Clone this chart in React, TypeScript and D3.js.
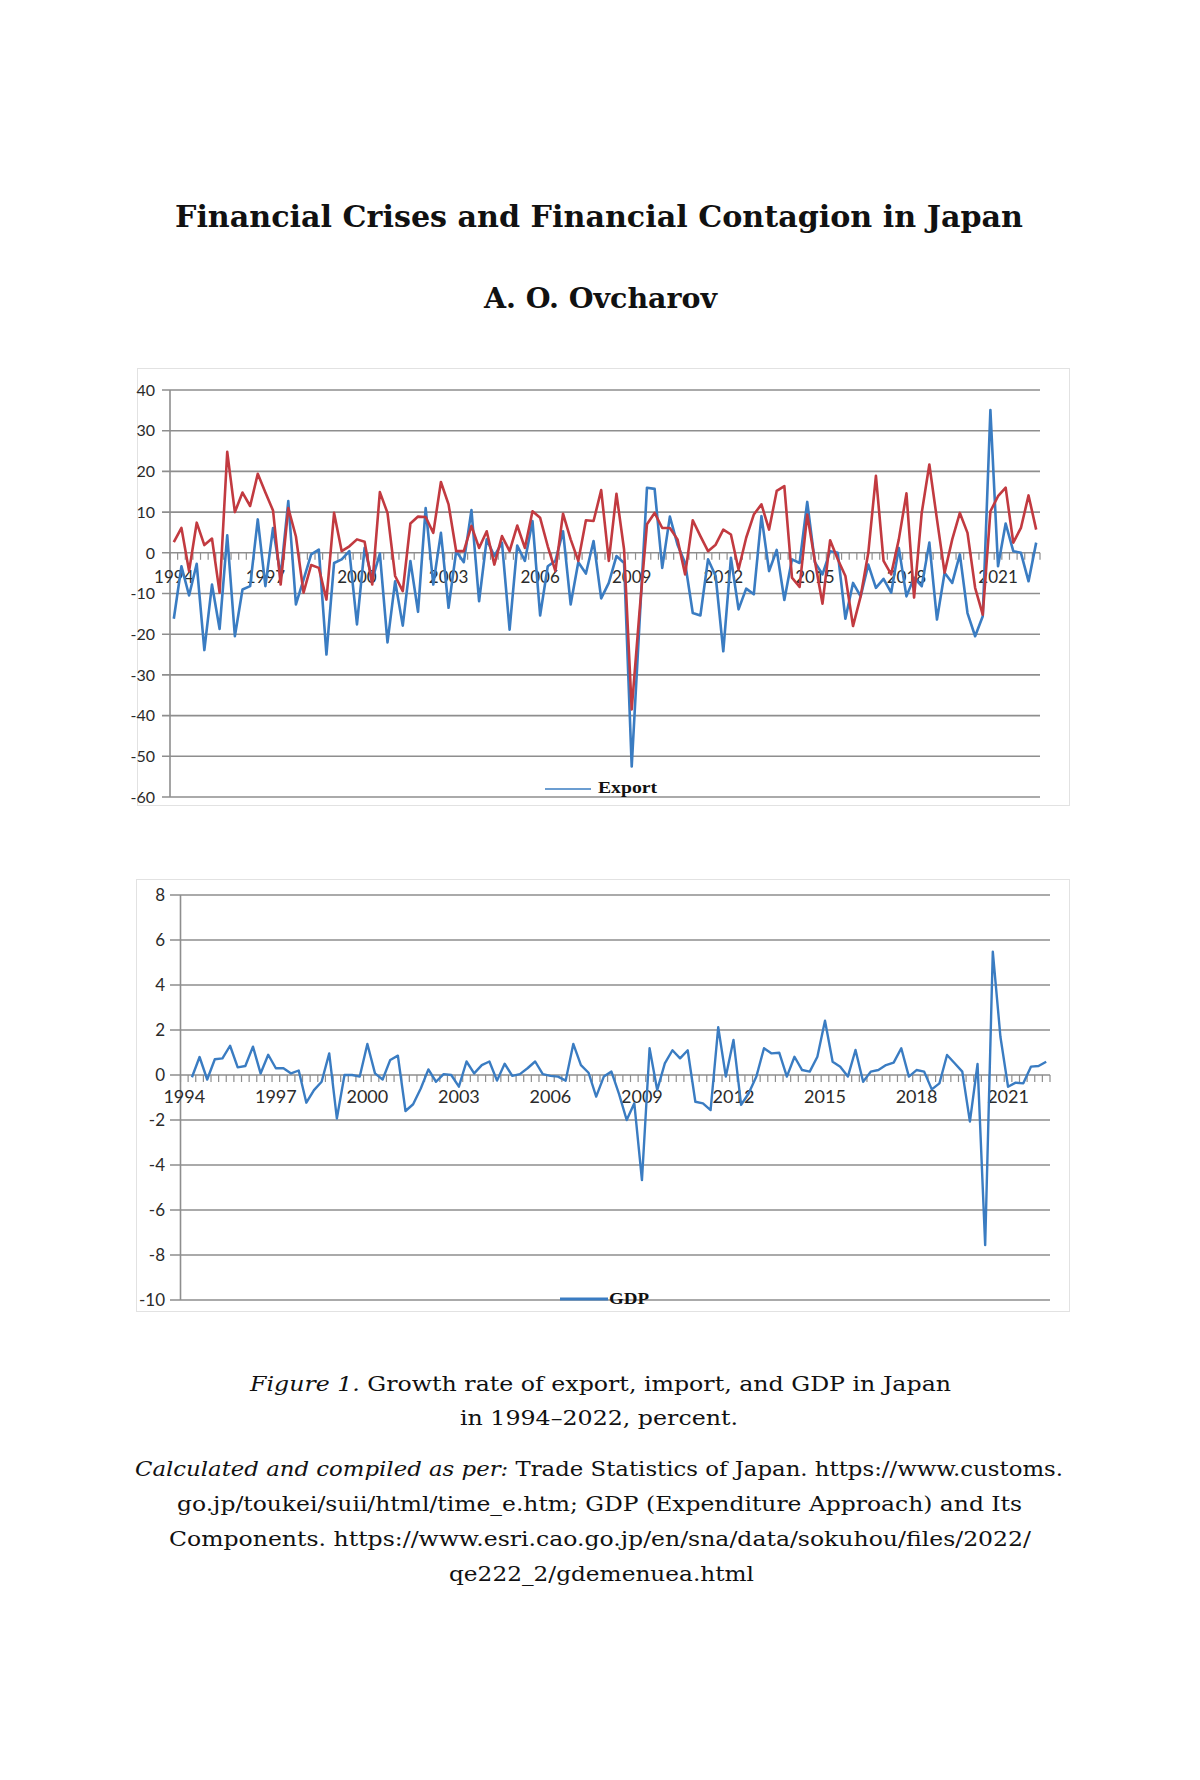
import React from 'react';
import * as d3 from 'd3';

// ---------- DATA ----------
const years = d3.range(1994, 2023);
const categories: string[] = [];
years.forEach((y) => {
  ['Q1', 'Q2', 'Q3', 'Q4'].forEach((q) => {
    if (categories.length < 114) categories.push(`${y}${q}`);
  });
});

const yearLabels = ['1994', '1997', '2000', '2003', '2006', '2009', '2012', '2015', '2018', '2021'];

const exportGrowth = [
  -16.2, -3.3, -10.5, -2.7, -23.9, -7.8, -18.7, 4.3, -20.5, -9,
  -8.2, 8.2, -8.2, 6.1, -5.7, 12.7, -12.7, -6.6, -0.4, 0.8,
  -25, -2.5, -1.6, 0.4, -17.6, 1.2, -6.6, -0.2, -22, -7,
  -17.9, -2, -14.5, 11, -7.8, 4.9, -13.5, 0.4, -2.3, 10.5,
  -11.9, 3.3, -0.8, 2.5, -18.9, 1.8, -2, 7.8, -15.4, -3.3,
  -2, 5.3, -12.7, -2.3, -5.1, 2.9, -11.2, -7.4, -0.8, -2.5,
  -52.5, -18, 16, 15.7, -3.7, 8.9, 2, -2.5, -14.8, -15.4,
  -1.6, -5.7, -24.2, -1.2, -13.9, -8.8, -10.2, 9, -4.5, 0.7,
  -11.6, -1.6, -2.5, 12.5, -2.3, -5.3, 0.4, 0, -16.2, -7.4,
  -10.7, -2.9, -8.6, -6.4, -9.8, 1.2, -10.7, -6.1, -8.2, 2.5,
  -16.4, -4.9, -7.4, -0.4, -14.8, -20.5, -15.6, 35.1, -3.3, 7.2,
  0.4, 0, -7, 2.5,
];

const importGrowth = [
  2.6, 6.1, -4.5, 7.4, 1.9, 3.5, -9.8, 24.8, 10, 14.8,
  11.5, 19.4, 14.8, 10.4, -7.8, 11, 4, -9.8, -3, -3.7,
  -11.5, 9.8, 0.4, 1.6, 3.3, 2.7, -7.8, 14.9, 9.8, -5.7,
  -9.4, 7.2, 8.9, 8.8, 4.9, 17.4, 11.9, 0.4, 0.4, 6.6,
  1.2, 5.3, -2.9, 4.1, 0.4, 6.7, 1.2, 10.2, 8.6, 1.6,
  -4.5, 9.6, 3.3, -2, 8, 7.8, 15.4, -2, 14.5, 0.8,
  -38.5, -15, 7, 9.8, 6.1, 6.1, 3.3, -5.3, 8, 4.1,
  0.4, 2, 5.7, 4.5, -4.1, 3.7, 9.4, 11.9, 5.7, 15.2,
  16.4, -6.1, -8.4, 9.4, -2, -12.5, 3.1, -1.6, -5.7, -18,
  -10.7, 0, 18.9, -2, -5.3, 3.3, 14.6, -11, 9.8, 21.7,
  8.2, -4.9, 3.3, 9.8, 4.9, -8.6, -15.2, 10.2, 13.9, 16,
  2.5, 6.1, 14.1, 5.7,
];

const gdpGrowth: (number | null)[] = [
  null, -0.1, 0.8, -0.2, 0.7, 0.74, 1.3, 0.34, 0.4, 1.26,
  0.07, 0.9, 0.3, 0.3, 0.07, 0.2, -1.23, -0.67, -0.3, 0.96,
  -1.93, 0, 0, -0.07, 1.38, 0.07, -0.2, 0.67, 0.86, -1.6,
  -1.3, -0.6, 0.25, -0.3, 0.04, 0, -0.52, 0.6, 0.07, 0.44,
  0.6, -0.25, 0.5, -0.04, 0.04, 0.3, 0.6, 0.04, -0.04, -0.07,
  -0.25, 1.38, 0.44, 0.1, -0.96, -0.07, 0.15, -0.85, -2.0, -1.26,
  -4.67, 1.19, -0.67, 0.52, 1.1, 0.74, 1.1, -1.19, -1.26, -1.56,
  2.12, -0.07, 1.56, -1.33, -0.81, -0.07, 1.19, 0.96, 0.99, -0.07,
  0.81, 0.22, 0.15, 0.81, 2.41, 0.59, 0.37, -0.07, 1.11, -0.3,
  0.15, 0.22, 0.44, 0.55, 1.19, -0.07, 0.22, 0.15, -0.64, -0.37,
  0.89, 0.52, 0.15, -2.07, 0.49, -7.56, 5.48, 1.7, -0.52, -0.34,
  -0.37, 0.37, 0.4, 0.59,
];

const topTicks = [40, 30, 20, 10, 0, -10, -20, -30, -40, -50, -60];
const bottomTicks = [8, 6, 4, 2, 0, -2, -4, -6, -8, -10];

const BLUE = '#3a7cc2';
const RED = '#c23a40';
const GRID = '#8e8e8e';
const LABEL = '#2b2b2b';
const SANS = 'Lato, "Noto Sans", sans-serif';
const SERIF = '"DejaVu Serif", "Liberation Serif", serif';

type Series = { values: (number | null)[]; color: string; width: number };

function LineChart(props: {
  box: [number, number, number, number];
  left: number;
  right: number;
  top: number;
  bottom: number;
  domain: [number, number];
  ticks: number[];
  series: Series[];
  gridStart: number;
  yLabelX: number;
  yLabelSize: number;
  xLabelSize: number;
  xLabelDy: number;
  legend: { text: string; x1: number; x2: number; ly: number; tx: number; ty: number; tw: number; lw: number };
}) {
  const { box, left, right, top, bottom, domain, ticks, series } = props;
  const x = d3.scaleBand<string>().domain(categories).range([left, right]).paddingInner(0).paddingOuter(0);
  const bw = x.bandwidth();
  const y = d3.scaleLinear().domain(domain).range([bottom, top]);
  const cx = (i: number) => (x(categories[i]) as number) + bw / 2;
  const y0 = y(0);
  const line = d3
    .line<number | null>()
    .defined((d) => d !== null)
    .x((_, i) => cx(i))
    .y((d) => y(d as number));

  const boundaries = d3.range(categories.length + 1).map((k) => left + k * bw);

  return (
    <g>
      <rect x={box[0]} y={box[1]} width={box[2]} height={box[3]} fill="#fff" stroke="#e2e2e2" strokeWidth={1} />
      {ticks.map((t) => (
        <line key={'g' + t} x1={props.gridStart} x2={right} y1={y(t)} y2={y(t)} stroke={GRID} strokeWidth={1.6} />
      ))}
      <line x1={left} x2={left} y1={top} y2={bottom} stroke={GRID} strokeWidth={1.6} />
      {boundaries.map((bx, k) => (
        <line key={'t' + k} x1={bx} x2={bx} y1={y0} y2={y0 + 7} stroke={GRID} strokeWidth={1.2} />
      ))}
      {ticks.map((t) => (
        <text
          key={'yl' + t}
          x={props.yLabelX}
          y={y(t)}
          dy="0.36em"
          textAnchor="end"
          fontFamily={SANS}
          fontSize={props.yLabelSize}
          fill={LABEL}
        >
          {t}
        </text>
      ))}
      {yearLabels.map((yl) => {
        const idx = categories.indexOf(`${yl}Q1`);
        return (
          <text
            key={'xl' + yl}
            x={cx(idx)}
            y={y0 + props.xLabelDy}
            textAnchor="middle"
            fontFamily={SANS}
            fontSize={props.xLabelSize}
            fill={LABEL}
          >
            {yl}
          </text>
        );
      })}
      {series.map((s, k) => (
        <path
          key={'s' + k}
          d={line(s.values) || ''}
          fill="none"
          stroke={s.color}
          strokeWidth={s.width}
          strokeLinejoin="round"
        />
      ))}
      <line
        x1={props.legend.x1}
        x2={props.legend.x2}
        y1={props.legend.ly}
        y2={props.legend.ly}
        stroke={BLUE}
        strokeWidth={props.legend.lw}
      />
      <text
        x={props.legend.tx}
        y={props.legend.ty}
        fontFamily='"Liberation Serif", serif'
        fontWeight="bold"
        fontSize={17}
        fill="#111"
        textLength={props.legend.tw}
        lengthAdjust="spacingAndGlyphs"
      >
        {props.legend.text}
      </text>
    </g>
  );
}

export default function App() {
  return (
    <svg
      width={1200}
      height={1780}
      viewBox="0 0 1200 1780"
      style={{ position: 'absolute', left: 0, top: 0, background: '#fff' }}
    >
      <rect x={0} y={0} width={1200} height={1780} fill="#fff" />
      <text
        x={175}
        y={227}
        fontFamily={SERIF}
        fontWeight="bold"
        fontSize={30}
        fill="#111"
        textLength={848}
        lengthAdjust="spacingAndGlyphs"
      >
        Financial Crises and Financial Contagion in Japan
      </text>
      <text
        x={484}
        y={308}
        fontFamily={SERIF}
        fontWeight="bold"
        fontSize={27}
        fill="#111"
        textLength={233}
        lengthAdjust="spacingAndGlyphs"
      >
        A. O. Ovcharov
      </text>

      <LineChart
        box={[137.5, 368.5, 932, 437]}
        left={170}
        right={1040}
        top={390}
        bottom={797}
        domain={[-60, 40]}
        ticks={topTicks}
        series={[
          { values: exportGrowth, color: BLUE, width: 2.6 },
          { values: importGrowth, color: RED, width: 2.6 },
        ]}
        gridStart={162}
        yLabelX={155}
        yLabelSize={16}
        xLabelSize={17}
        xLabelDy={30}
        legend={{ text: 'Export', x1: 545, x2: 591, ly: 789, tx: 598, ty: 793, tw: 59, lw: 1.6 }}
      />

      <LineChart
        box={[136.5, 879.5, 933, 432]}
        left={180.5}
        right={1050}
        top={895}
        bottom={1300}
        domain={[-10, 8]}
        ticks={bottomTicks}
        series={[{ values: gdpGrowth, color: BLUE, width: 2.4 }]}
        gridStart={170}
        yLabelX={165}
        yLabelSize={17}
        xLabelSize={18}
        xLabelDy={28}
        legend={{ text: 'GDP', x1: 560, x2: 608, ly: 1299, tx: 609, ty: 1304, tw: 40, lw: 3 }}
      />

      <g fontFamily={SERIF} fontSize={21} fill="#111">
        <text x={250} y={1391} textLength={701} lengthAdjust="spacingAndGlyphs">
          <tspan fontStyle="italic">Figure 1.</tspan> Growth rate of export, import, and GDP in Japan
        </text>
        <text x={460} y={1425} textLength={278} lengthAdjust="spacingAndGlyphs">
          in 1994–2022, percent.
        </text>
        <text x={135} y={1476} textLength={928} lengthAdjust="spacingAndGlyphs">
          <tspan fontStyle="italic">Calculated and compiled as per:</tspan> Trade Statistics of Japan. https://www.customs.
        </text>
        <text x={177} y={1511} textLength={845} lengthAdjust="spacingAndGlyphs">
          go.jp/toukei/suii/html/time_e.htm; GDP (Expenditure Approach) and Its
        </text>
        <text x={169} y={1546} textLength={862} lengthAdjust="spacingAndGlyphs">
          Components. https://www.esri.cao.go.jp/en/sna/data/sokuhou/files/2022/
        </text>
        <text x={449} y={1581} textLength={305} lengthAdjust="spacingAndGlyphs">
          qe222_2/gdemenuea.html
        </text>
      </g>
    </svg>
  );
}
